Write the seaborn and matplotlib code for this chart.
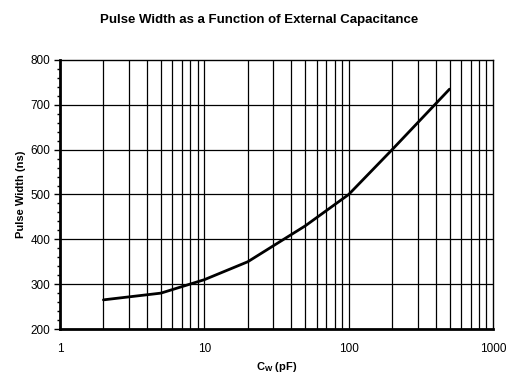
import numpy as np
import pandas as pd
import seaborn as sns
import matplotlib.pyplot as plt
from matplotlib.ticker import FixedLocator, NullFormatter

# values
cap_pf = [2, 5, 10, 20, 50, 100, 200, 500]
pulse_ns = [265, 280, 310, 350, 430, 500, 600, 735]
x_ticks = [1, 10, 100, 1000]
y_ticks = [200, 300, 400, 500, 600, 700, 800]

sns.set_style('white')
plt.rcParams['font.family'] = ['Liberation Sans', 'DejaVu Sans']
plt.rcParams['mathtext.fontset'] = 'custom'
plt.rcParams['mathtext.bf'] = 'Liberation Sans:bold'
plt.rcParams['text.color'] = 'black'
plt.rcParams['axes.labelcolor'] = 'black'

df = pd.DataFrame({'cap': cap_pf, 'pw': pulse_ns})

fig = plt.figure(figsize=(5.18, 3.85), dpi=100)
ax = fig.add_axes([60 / 518, 1 - 329 / 385, 433 / 518, 269 / 385])

ax.set_xscale('log')
ax.set_xlim(1, 1000)
ax.set_ylim(200, 800)

# vertical grid on every 1..9 of each decade, horizontal every 100
xgrid = [m * 10 ** d for d in range(3) for m in range(1, 10)][1:]
for xv in xgrid:
    ax.axvline(xv, color='black', lw=0.9, zorder=1)
for yv in y_ticks[1:-1]:
    ax.axhline(yv, color='black', lw=0.9, zorder=1)

sns.lineplot(data=df, x='cap', y='pw', color='black', lw=2.0, ax=ax, zorder=3)

ax.xaxis.set_major_locator(FixedLocator(x_ticks))
ax.xaxis.set_minor_locator(FixedLocator([]))
ax.set_xticklabels([str(t) for t in x_ticks])
ax.xaxis.set_minor_formatter(NullFormatter())
ax.set_yticks(y_ticks)
ax.yaxis.set_minor_locator(FixedLocator(np.arange(200, 801, 20)))
ax.tick_params(axis='x', length=0, labelsize=8.5, pad=10, colors='black')
ax.tick_params(axis='y', which='major', length=4, width=1, labelsize=8.5,
               pad=3, direction='out', left=True, colors='black')
ax.tick_params(axis='y', which='minor', length=2, width=1,
               direction='out', left=True, colors='black')

for side in ['top', 'right']:
    ax.spines[side].set_linewidth(1.0)
    ax.spines[side].set_color('black')
for side in ['left', 'bottom']:
    ax.spines[side].set_linewidth(2.0)
    ax.spines[side].set_color('black')

ax.set_xlabel(r'C$_{\mathbf{W}}$ (pF)', fontsize=8, fontweight='bold', labelpad=4)
ax.set_ylabel('Pulse Width (ns)', fontsize=8, fontweight='bold', labelpad=3)
fig.text(0.5, 1 - 20 / 385, 'Pulse Width as a Function of External Capacitance',
         ha='center', va='center', fontsize=9.5, fontweight='bold')

plt.savefig('out.png', dpi=100)
